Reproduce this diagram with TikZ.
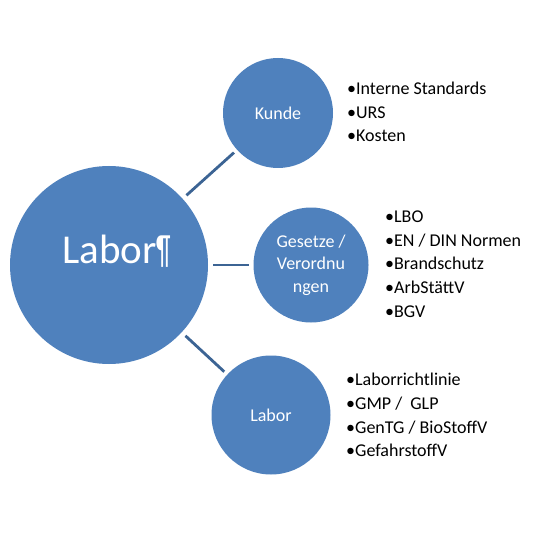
\documentclass[tikz,border=0pt]{standalone}
\usepackage{fontspec}
\setmainfont{Carlito}
\definecolor{bubble}{HTML}{4F81BD}
\definecolor{link}{HTML}{3C6494}
\begin{document}
\begin{tikzpicture}[x=1pt,y=-1pt,
  bubble/.style={circle,fill=bubble,draw=none,text=white,align=center,inner sep=0pt,font=\fontsize{18}{22.5}\selectfont},
  link/.style={draw=link,line width=2.8pt,shorten <=5pt,shorten >=4pt},
  list/.style={anchor=west,align=left,inner sep=0pt,text=black,font=\fontsize{18}{23.7}\selectfont}]
\useasboundingbox[fill=white] (0,0) rectangle (540,540);
\node[bubble,minimum size=198pt] (main) at (109,265) {};
\node[anchor=base west,text=white,font=\fontsize{41}{41}\selectfont,inner sep=0pt] (maintext) at (62,263) {Labor\scalebox{0.6}[1]{¶}};
\node[bubble,minimum size=110pt] (kunde) at (278,113) {Kunde};
\node[bubble,minimum size=115pt] (gesetze) at (311,265) {Gesetze /\\Verordnu\\ngen};
\node[bubble,minimum size=119pt] (labor) at (271,415) {Labor};
\draw[link] (main) -- (kunde);
\draw[link] (main) -- (gesetze);
\draw[link] (main) -- (labor);
\node[list] (l1) at (347,112) {•Interne Standards\\•URS\\•Kosten};
\node[list] (l2) at (385,264) {•LBO\\•EN / DIN Normen\\•Brandschutz\\•ArbStättV\\•BGV};
\node[list] (l3) at (346,415) {•Laborrichtlinie\\•GMP~/~ GLP\\•GenTG / BioStoffV\\•GefahrstoffV};
\end{tikzpicture}
\end{document}
